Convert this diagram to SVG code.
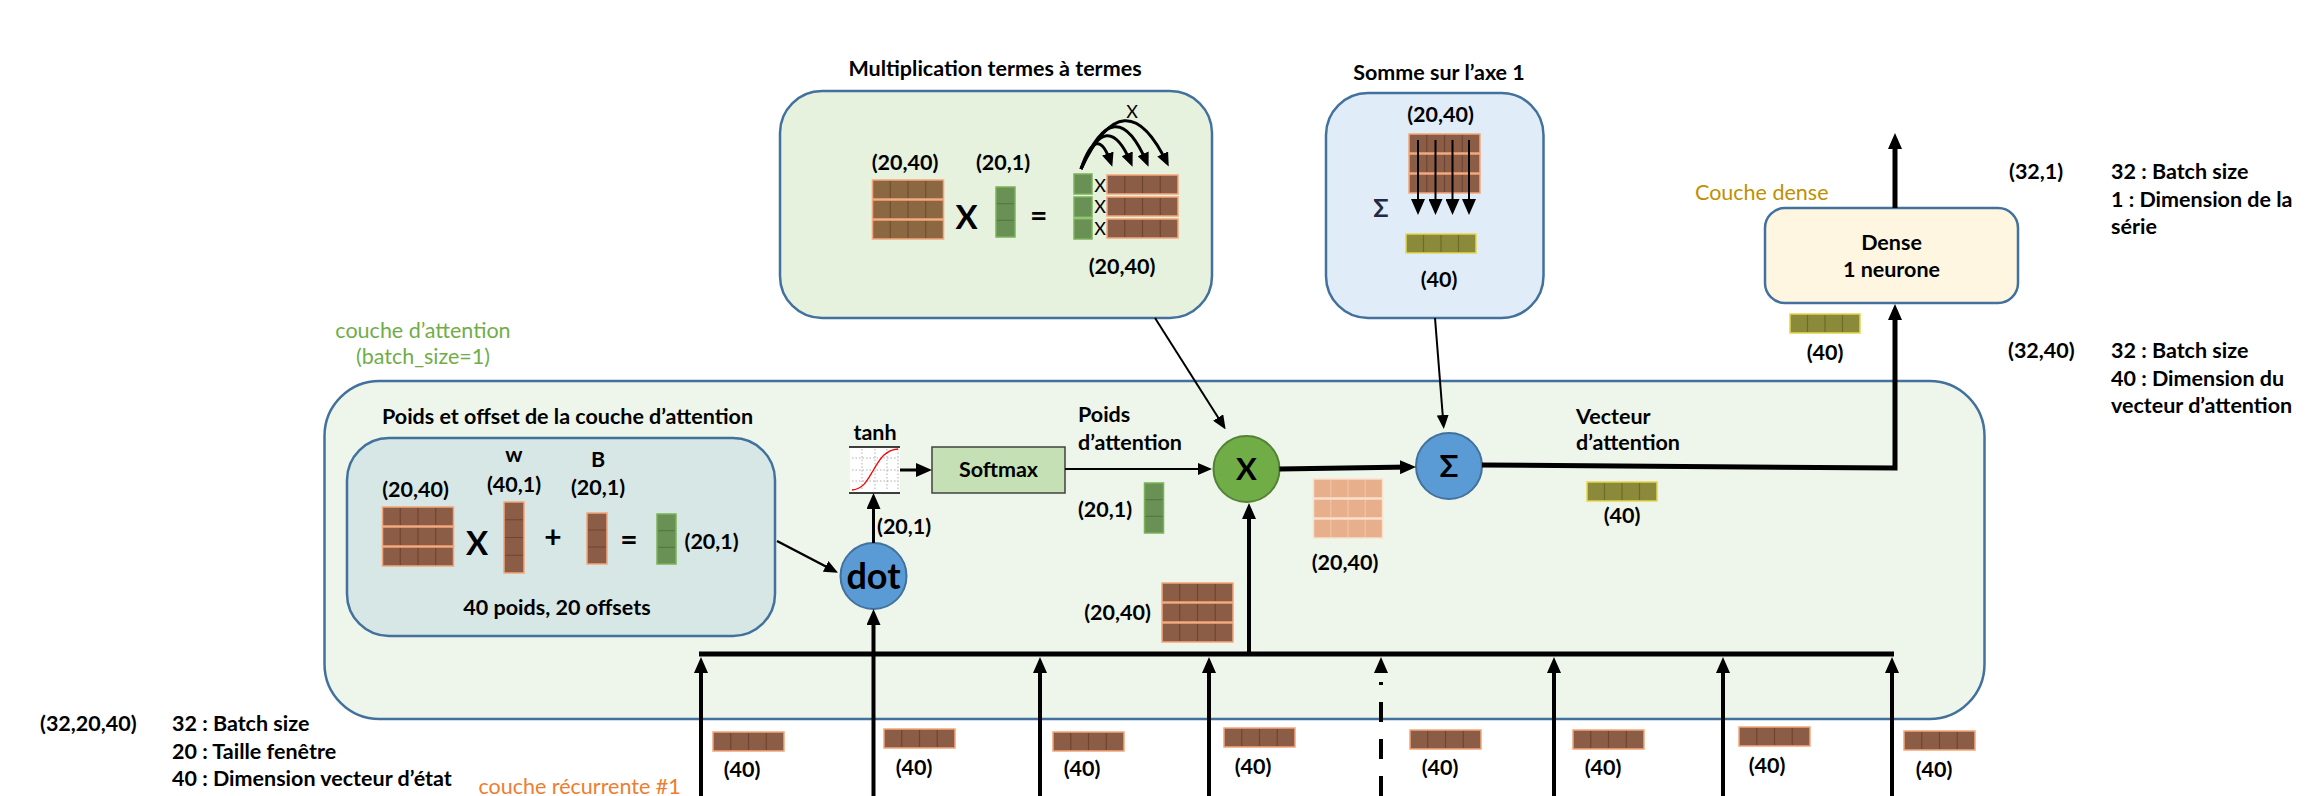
<svg xmlns="http://www.w3.org/2000/svg" width="2313" height="796" viewBox="0 0 2313 796">
<style>
text{font-family:Lato,"Liberation Sans",sans-serif;font-size:21.5px;font-weight:bold;fill:#000}
.c{text-anchor:middle}
.n{font-weight:normal}
.box{stroke:#41719C;stroke-width:2.5}
.ln{stroke:#000;fill:none}
</style>
<defs>
<marker id="ah" viewBox="0 0 16 14" refX="10" refY="7" markerWidth="16" markerHeight="14" markerUnits="userSpaceOnUse" orient="auto"><path d="M0,0L16,7L0,14z" fill="#000"/></marker>
<marker id="as" viewBox="0 0 14 12" refX="10" refY="6" markerWidth="14" markerHeight="12" markerUnits="userSpaceOnUse" orient="auto"><path d="M0,0L14,6L0,12z" fill="#000"/></marker>
<g id="rowB"><rect x="0" y="0" width="71" height="19" fill="#8C5D46" stroke="#F4A67A" stroke-width="1.5"/><path d="M17.75,1V18M35.5,1V18M53.25,1V18" stroke="#6E4531" stroke-width="1.2"/></g>
<g id="rowM"><rect x="0" y="0" width="71" height="19" fill="#8C6842" stroke="#F4A67A" stroke-width="1.5"/><path d="M17.75,1V18M35.5,1V18M53.25,1V18" stroke="#6E5030" stroke-width="1.2"/></g>
<g id="rowL"><rect x="0" y="0" width="69" height="19" fill="#E8AF8C" stroke="#FBE0CC" stroke-width="1.5"/><path d="M17.25,1V18M34.5,1V18M51.75,1V18" stroke="#F3C4A6" stroke-width="1.2"/></g>
<g id="rowO"><rect x="0" y="0" width="70" height="19" fill="#8B8A3A" stroke="#E3D650" stroke-width="1.5"/><path d="M17.5,1V18M35,1V18M52.5,1V18" stroke="#6D6C2B" stroke-width="1.2"/></g>
<g id="matB"><use href="#rowB"/><use href="#rowB" y="20"/><use href="#rowB" y="40"/></g>
<g id="colG"><rect x="0" y="0" width="19" height="50" fill="#6A9155" stroke="#7AB357" stroke-width="1.5"/><path d="M1,16.7H18M1,33.3H18" stroke="#557A44" stroke-width="1.2"/></g>
</defs>

<!-- containers -->
<g id="attention-layer">
<rect class="box" x="324.5" y="381" width="1660" height="338" rx="55" fill="#EEF5EA"/>
<text class="c n" x="423" y="338" style="fill:#70AD47">couche d’attention</text>
<text class="c n" x="423" y="364" style="fill:#70AD47">(batch_size=1)</text>
</g>

<g id="weights-box">
<text x="382" y="424">Poids et offset de la couche d’attention</text>
<rect class="box" x="347" y="438" width="428" height="198" rx="42" fill="#D7E7E5"/>
<text class="c" x="415.5" y="497">(20,40)</text>
<use href="#matB" x="382.5" y="507"/>
<text class="c" x="477" y="555" style="font-size:33px">X</text>
<text class="c" x="514" y="462">w</text>
<text class="c" x="514" y="492">(40,1)</text>
<rect x="504" y="502" width="20" height="71" fill="#8C5D46" stroke="#F4A67A" stroke-width="1.5"/>
<path d="M505,519.75H523M505,537.5H523M505,555.25H523" stroke="#6E4531" stroke-width="1.2"/>
<text class="c" x="553" y="548" style="font-size:30px">+</text>
<text class="c" x="598" y="467">B</text>
<text class="c" x="598" y="495">(20,1)</text>
<rect x="587" y="513" width="20" height="51" fill="#8C5D46" stroke="#F4A67A" stroke-width="1.5"/>
<path d="M588,530H606M588,547H606" stroke="#6E4531" stroke-width="1.2"/>
<text class="c" x="629" y="550" style="font-size:30px">=</text>
<use href="#colG" x="657" y="514"/>
<text x="684.5" y="549">(20,1)</text>
<text class="c" x="557" y="615">40 poids, 20 offsets</text>
</g>

<g id="dot-node">
<circle cx="873.5" cy="576" r="33" fill="#5B9BD5" stroke="#41719C" stroke-width="2"/>
<text class="c" x="873.5" y="589" style="font-size:36px">dot</text>
<text x="877" y="534">(20,1)</text>
</g>

<g id="tanh">
<text class="c" x="875" y="440">tanh</text>
<rect x="850" y="447" width="50" height="46" fill="#fff"/>
<path d="M852,458H898M852,470H898M852,481H898M862,449V491M875,449V491M887,449V491M898,449V491" stroke="#999" stroke-width="0.8" stroke-dasharray="1.5 2"/>
<path d="M849,447H900M849,493H900" stroke="#000" stroke-width="1.5"/>
<path d="M852,490C864,489 868,479 874,469S885,450 898,449" fill="none" stroke="#FF0000" stroke-width="1.3"/>
</g>

<g id="softmax">
<rect x="932" y="447" width="133" height="46" fill="#C5E0B4" stroke="#404040" stroke-width="1.5"/>
<text class="c" x="998.5" y="477">Softmax</text>
<text x="1078" y="422">Poids</text>
<text x="1078" y="450">d’attention</text>
<use href="#colG" x="1144.5" y="483"/>
<text class="c" x="1105" y="517">(20,1)</text>
</g>

<g id="states-matrix">
<text class="c" x="1117.5" y="620">(20,40)</text>
<use href="#matB" x="1162" y="583"/>
</g>

<g id="x-node">
<circle cx="1246.5" cy="469" r="33" fill="#70AD47" stroke="#548235" stroke-width="2"/>
<text class="c" x="1246.5" y="480" style="font-size:31px">X</text>
</g>

<g id="weighted-matrix">
<use href="#rowL" x="1313.5" y="479"/><use href="#rowL" x="1313.5" y="499"/><use href="#rowL" x="1313.5" y="519"/>
<text class="c" x="1345" y="570">(20,40)</text>
</g>

<g id="sigma-node">
<circle cx="1449" cy="466" r="33" fill="#5B9BD5" stroke="#41719C" stroke-width="2"/>
<text class="c" x="1449" y="477" style="font-size:31px">Σ</text>
</g>

<g id="attention-vector">
<text x="1576" y="424">Vecteur</text>
<text x="1576" y="450">d’attention</text>
<use href="#rowO" x="1587" y="482"/>
<text class="c" x="1622" y="523">(40)</text>
</g>

<g id="mult-box">
<text class="c" x="995" y="76">Multiplication termes à termes</text>
<rect class="box" x="780" y="91" width="432" height="227" rx="42" fill="#E6F1DE"/>
<text class="c" x="905" y="170">(20,40)</text>
<text class="c" x="1003" y="170">(20,1)</text>
<use href="#rowM" x="872.5" y="180"/><use href="#rowM" x="872.5" y="200"/><use href="#rowM" x="872.5" y="220"/>
<text class="c" x="966.5" y="229" style="font-size:33px">X</text>
<use href="#colG" x="996" y="187"/>
<text class="c" x="1038.6" y="226" style="font-size:30px">=</text>
<rect x="1074" y="174" width="18" height="20" fill="#6A9155" stroke="#7AB357" stroke-width="1.5"/>
<rect x="1074" y="197" width="18" height="20" fill="#6A9155" stroke="#7AB357" stroke-width="1.5"/>
<rect x="1074" y="219" width="18" height="20" fill="#6A9155" stroke="#7AB357" stroke-width="1.5"/>
<text class="c n" x="1100" y="192" style="font-size:18px">X</text>
<text class="c n" x="1100" y="213" style="font-size:18px">X</text>
<text class="c n" x="1100" y="235" style="font-size:18px">X</text>
<use href="#rowB" x="1107" y="175"/><use href="#rowB" x="1107" y="197"/><use href="#rowB" x="1107" y="219"/>
<text class="c" x="1122" y="274">(20,40)</text>
<text class="c n" x="1132" y="118" style="font-size:18px">X</text>
<g class="ln" stroke-width="3">
<path d="M1081,169Q1097,121.5 1111,163" marker-end="url(#as)"/>
<path d="M1081,169Q1107,105.5 1131,163" marker-end="url(#as)"/>
<path d="M1081,169Q1115,87.5 1147,163" marker-end="url(#as)"/>
<path d="M1081,169Q1125,75.5 1167,163" marker-end="url(#as)"/>
</g>
</g>

<g id="sum-box">
<text class="c" x="1439" y="80">Somme sur l’axe 1</text>
<rect class="box" x="1326" y="93" width="217.5" height="225" rx="42" fill="#E0ECF8"/>
<text class="c" x="1440.5" y="122">(20,40)</text>
<use href="#rowB" x="1409" y="134"/><use href="#rowB" x="1409" y="154"/><use href="#rowB" x="1409" y="174"/>
<g class="ln" stroke-width="2">
<path d="M1418,140V209" marker-end="url(#ah)"/>
<path d="M1435.5,140V209" marker-end="url(#ah)"/>
<path d="M1452.5,140V209" marker-end="url(#ah)"/>
<path d="M1469,140V209" marker-end="url(#ah)"/>
</g>
<text class="c" x="1381" y="217" style="fill:#1F2A44;font-size:25px">Σ</text>
<use href="#rowO" x="1406" y="234"/>
<text class="c" x="1439" y="287">(40)</text>
</g>

<g id="dense-box">
<text class="n" x="1695" y="200" style="fill:#BF9000">Couche dense</text>
<rect class="box" x="1765" y="208" width="253" height="95" rx="20" fill="#FFF6E2"/>
<text class="c" x="1891.5" y="250">Dense</text>
<text class="c" x="1891.5" y="277">1 neurone</text>
<use href="#rowO" x="1790" y="314"/>
<text class="c" x="1825" y="360">(40)</text>
</g>

<g id="legend">
<text x="2009" y="179">(32,1)</text>
<text x="2111" y="179">32 : Batch size</text>
<text x="2111" y="207">1 : Dimension de la</text>
<text x="2111" y="234">série</text>
<text x="2008" y="358">(32,40)</text>
<text x="2111" y="358">32 : Batch size</text>
<text x="2111" y="386">40 : Dimension du</text>
<text x="2111" y="413">vecteur d’attention</text>
<text x="40" y="731">(32,20,40)</text>
<text x="172" y="731">32 : Batch size</text>
<text x="172" y="759">20 : Taille fenêtre</text>
<text x="172" y="786">40 : Dimension vecteur d’état</text>
<text class="n" x="478.5" y="794" style="fill:#ED7D31">couche récurrente #1</text>
</g>

<g id="recurrent-outputs">
<use href="#rowB" x="713" y="732"/><text class="c" x="742" y="777">(40)</text>
<use href="#rowB" x="884" y="729"/><text class="c" x="914" y="775">(40)</text>
<use href="#rowB" x="1053" y="732"/><text class="c" x="1082" y="776">(40)</text>
<use href="#rowB" x="1224" y="728"/><text class="c" x="1253" y="774">(40)</text>
<use href="#rowB" x="1410" y="730"/><text class="c" x="1440" y="775">(40)</text>
<use href="#rowB" x="1573" y="730"/><text class="c" x="1603" y="775">(40)</text>
<use href="#rowB" x="1739" y="727"/><text class="c" x="1767" y="773">(40)</text>
<use href="#rowB" x="1904" y="731"/><text class="c" x="1934" y="777">(40)</text>
</g>

<g id="connectors" class="ln">
<path d="M699,654H1894" stroke-width="5"/>
<path d="M701,796V663" stroke-width="4" marker-end="url(#ah)"/>
<path d="M873.5,796V615" stroke-width="4" marker-end="url(#ah)"/>
<path d="M1040,796V663" stroke-width="4" marker-end="url(#ah)"/>
<path d="M1209,796V663" stroke-width="4" marker-end="url(#ah)"/>
<path d="M1381,796V682" stroke-width="4" stroke-dasharray="20 17"/>
<path d="M1381,671V663" stroke-width="4" marker-end="url(#ah)"/>
<path d="M1554,796V663" stroke-width="4" marker-end="url(#ah)"/>
<path d="M1723,796V663" stroke-width="4" marker-end="url(#ah)"/>
<path d="M1892,796V663" stroke-width="4" marker-end="url(#ah)"/>
<path d="M1249,654V509" stroke-width="4" marker-end="url(#ah)"/>
<path d="M777,541L834.5,571" stroke-width="2.5" marker-end="url(#as)"/>
<path d="M873.5,543V499" stroke-width="3" marker-end="url(#ah)"/>
<path d="M900,470H926" stroke-width="3" marker-end="url(#ah)"/>
<path d="M1065,469H1208" stroke-width="2" marker-end="url(#as)"/>
<path d="M1155,318L1223.5,426" stroke-width="2" marker-end="url(#as)"/>
<path d="M1435,318L1443.5,425" stroke-width="2" marker-end="url(#as)"/>
<path d="M1279.5,469L1410,467" stroke-width="5" marker-end="url(#ah)"/>
<path d="M1482,465L1895,468V310" stroke-width="5" marker-end="url(#ah)"/>
<path d="M1895,208V139" stroke-width="5" marker-end="url(#ah)"/>
</g>
</svg>
